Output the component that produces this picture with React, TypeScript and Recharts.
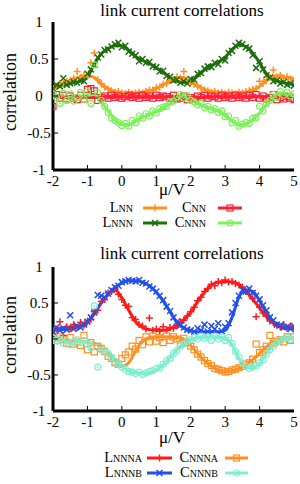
import React from 'react';
import { ComposedChart, Line, Scatter, XAxis, YAxis } from 'recharts';

// x grids: smooth curves every 0.2, measured points every 0.1
const curveX = [-2, -1.8, -1.6, -1.4, -1.2, -1, -0.8, -0.6, -0.4, -0.2, 0, 0.2, 0.4, 0.6, 0.8, 1, 1.2, 1.4,
  1.6, 1.8, 2, 2.2, 2.4, 2.6, 2.8, 3, 3.2, 3.4, 3.6, 3.8, 4, 4.2, 4.4, 4.6, 4.8, 5];
const pointX = [-2, -1.9, -1.8, -1.7, -1.6, -1.5, -1.4, -1.3, -1.2, -1.1,
  -1, -0.9, -0.8, -0.7, -0.6, -0.5, -0.4, -0.3, -0.2, -0.1,
  0, 0.1, 0.2, 0.3, 0.4, 0.5, 0.6, 0.7, 0.8, 0.9,
  1, 1.1, 1.2, 1.3, 1.4, 1.5, 1.6, 1.7, 1.8, 1.9,
  2, 2.1, 2.2, 2.3, 2.4, 2.5, 2.6, 2.7, 2.8, 2.9,
  3, 3.1, 3.2, 3.3, 3.4, 3.5, 3.6, 3.7, 3.8, 3.9,
  4, 4.1, 4.2, 4.3, 4.4, 4.5, 4.6, 4.7, 4.8, 4.9,
  5];
const xTicks = [-2, -1, 0, 1, 2, 3, 4, 5];
const yTicks = [-1, -0.5, 0, 0.5, 1];
const title = 'link current correlations';
const xLabel = 'μ/V';
const yLabel = 'correlation';

// upper panel
const lnnCurve = [0.12, 0.16, 0.19, 0.23, 0.26, 0.27, 0.25, 0.16, 0.1, 0.06, 0.045, 0.04, 0.04, 0.05, 0.07, 0.1, 0.15, 0.2,
  0.25, 0.25, 0.19, 0.14, 0.09, 0.06, 0.05, 0.04, 0.04, 0.045, 0.05, 0.08, 0.13, 0.21, 0.27, 0.27, 0.25, 0.24];
const cnnCurve = [0.01, 0, -0.01, -0.01, -0.015, -0.02, -0.02, -0.015, -0.01, -0.01, -0.01, -0.01, -0.01, -0.01, -0.01, -0.01, -0.01, -0.01,
  -0.015, -0.02, -0.02, -0.02, -0.015, -0.01, -0.01, -0.01, -0.01, -0.01, -0.01, -0.01, -0.01, -0.015, -0.02, -0.02, -0.02, -0.02];
const lnnnCurve = [0.12, 0.14, 0.16, 0.18, 0.2, 0.26, 0.43, 0.57, 0.64, 0.68, 0.68, 0.62, 0.53, 0.48, 0.44, 0.38, 0.32, 0.25,
  0.2, 0.18, 0.2, 0.27, 0.35, 0.41, 0.46, 0.52, 0.63, 0.69, 0.67, 0.58, 0.45, 0.3, 0.22, 0.19, 0.17, 0.16];
const cnnnCurve = [0.02, 0, -0.02, -0.03, -0.02, 0.01, 0.02, -0.08, -0.2, -0.32, -0.38, -0.39, -0.34, -0.29, -0.25, -0.21, -0.16, -0.1,
  -0.03, 0, -0.04, -0.1, -0.14, -0.17, -0.2, -0.26, -0.34, -0.39, -0.38, -0.32, -0.23, -0.12, -0.01, 0.04, 0.03, 0.02];

const lnnPts = [0.1, 0.13, 0.17, 0.17, 0.2, 0.21, 0.24, 0.33, 0.25, 0.28,
  0.26, 0.45, 0.58, 0.22, 0.17, 0.12, 0.09, 0.07, 0.05, 0.06,
  0.04, 0.03, 0.05, 0.03, 0.04, 0.05, 0.04, 0.06, 0.08, 0.08,
  0.11, 0.12, 0.16, 0.17, 0.21, 0.22, 0.26, 0.24, 0.33, 0.22,
  0.18, 0.16, 0.13, 0.11, 0.08, 0.07, 0.05, 0.06, 0.04, 0.05,
  0.03, 0.05, 0.04, 0.03, 0.05, 0.04, 0.06, 0.07, 0.09, 0.1,
  0.2, 0.17, 0.22, 0.25, 0.35, 0.26, 0.28, 0.24, 0.26, 0.23,
  0.21];
const cnnPts = [-0.14, 0.02, -0.03, 0.01, -0.04, 0, -0.03, -0.05, 0.01, -0.04,
  0.09, 0.1, 0.07, -0.06, -0.02, 0, -0.03, 0.01, -0.02, 0,
  -0.03, -0.01, 0.01, -0.02, 0, -0.03, 0.01, -0.02, 0, -0.03,
  0.01, -0.02, 0, -0.01, -0.03, 0.01, -0.04, -0.03, 0, -0.05,
  -0.02, -0.04, 0, -0.02, 0.01, -0.03, 0, -0.01, -0.03, 0.01,
  -0.02, 0, -0.03, 0.01, -0.02, 0, -0.03, 0.01, -0.02, 0.02,
  -0.03, 0, -0.04, -0.02, 0.02, -0.05, -0.02, -0.04, -0.01, -0.03,
  -0.05];
const lnnnPts = [0.1, 0.15, 0.13, 0.24, 0.15, 0.17, 0.19, 0.18, 0.21, 0.2,
  0.3, 0.36, 0.42, 0.52, 0.56, 0.62, 0.63, 0.67, 0.7, 0.72,
  0.66, 0.68, 0.6, 0.57, 0.55, 0.47, 0.5, 0.45, 0.46, 0.4,
  0.39, 0.33, 0.34, 0.27, 0.26, 0.21, 0.22, 0.18, 0.2, 0.17,
  0.23, 0.22, 0.3, 0.31, 0.37, 0.4, 0.39, 0.45, 0.43, 0.5,
  0.48, 0.58, 0.61, 0.68, 0.72, 0.7, 0.66, 0.64, 0.55, 0.38,
  0.47, 0.36, 0.28, 0.25, 0.2, 0.21, 0.17, 0.19, 0.15, 0.17,
  0.14];
const cnnnPts = [0.03, -0.02, -0.1, 0.04, -0.06, 0.03, -0.07, -0.02, 0.05, -0.04,
  0.06, -0.1, 0.42, 0.04, -0.06, -0.14, -0.22, -0.3, -0.33, -0.36,
  -0.4, -0.37, -0.41, -0.33, -0.36, -0.27, -0.3, -0.24, -0.27, -0.2,
  -0.23, -0.17, -0.15, -0.14, -0.08, -0.07, -0.01, 0.02, -0.03, 0.01,
  -0.06, -0.08, -0.12, -0.1, -0.16, -0.14, -0.19, -0.17, -0.22, -0.2,
  -0.28, -0.27, -0.36, -0.33, -0.41, -0.38, -0.36, -0.37, -0.3, -0.29,
  -0.14, -0.2, -0.1, -0.06, 0.02, -0.02, 0.06, 0.01, 0.05, 0,
  0.03];

// lower panel
const lnnnaCurve = [0.13, 0.15, 0.16, 0.17, 0.18, 0.23, 0.35, 0.5, 0.62, 0.68, 0.57, 0.4, 0.24, 0.16, 0.13, 0.12, 0.12, 0.14,
  0.19, 0.27, 0.37, 0.52, 0.65, 0.75, 0.79, 0.8, 0.79, 0.76, 0.67, 0.55, 0.43, 0.31, 0.22, 0.17, 0.15, 0.15];
const lnnnbCurve = [0.12, 0.13, 0.14, 0.15, 0.17, 0.23, 0.36, 0.5, 0.62, 0.71, 0.78, 0.81, 0.81, 0.79, 0.74, 0.65, 0.53, 0.38,
  0.23, 0.15, 0.11, 0.1, 0.1, 0.1, 0.1, 0.12, 0.3, 0.58, 0.68, 0.66, 0.53, 0.37, 0.24, 0.17, 0.15, 0.15];
const cnnnaCurve = [0, -0.01, -0.02, -0.03, -0.03, -0.04, -0.06, -0.11, -0.2, -0.3, -0.38, -0.33, -0.17, -0.03, 0.02, 0.03, 0.03, 0.03,
  0.02, 0, -0.09, -0.2, -0.3, -0.38, -0.43, -0.45, -0.44, -0.41, -0.36, -0.29, -0.2, -0.11, -0.04, 0, 0.02, 0.02];
const cnnnbCurve = [0, -0.01, -0.02, -0.03, -0.03, -0.04, -0.06, -0.11, -0.19, -0.29, -0.38, -0.44, -0.47, -0.48, -0.47, -0.43, -0.36, -0.26,
  -0.15, -0.06, -0.01, 0.02, 0.03, 0.03, 0.03, 0.01, -0.08, -0.27, -0.39, -0.4, -0.34, -0.2, -0.09, -0.02, 0.01, 0.02];

const lnnnaPts = [0.12, 0.14, 0.24, 0.05, 0.17, 0.15, 0.2, 0.16, 0.23, 0.19,
  0.25, 0.27, 0.38, 0.4, 0.52, 0.55, 0.64, 0.66, 0.7, 0.62,
  0.55, 0.47, 0.45, 0.3, 0.27, 0.2, 0.18, 0.14, 0.29, 0.12,
  0.14, 0.11, 0.17, 0.12, 0.16, 0.15, 0.18, 0.24, 0.26, 0.32,
  0.38, 0.44, 0.53, 0.58, 0.66, 0.7, 0.76, 0.74, 0.8, 0.78,
  0.82, 0.79, 0.8, 0.77, 0.75, 0.72, 0.66, 0.62, 0.56, 0.31,
  0.44, 0.36, 0.32, 0.25, 0.23, 0.19, 0.17, 0.2, 0.15, 0.18,
  0.14];
const lnnnbPts = [0.1, 0.16, 0.12, 0.15, 0.13, 0.33, 0.14, 0.18, 0.16, 0.2,
  0.24, 0.3, 0.37, 0.61, 0.6, 0.58, 0.63, 0.68, 0.72, 0.74,
  0.79, 0.8, 0.82, 0.81, 0.8, 0.82, 0.78, 0.77, 0.73, 0.7,
  0.66, 0.6, 0.54, 0.45, 0.39, 0.3, 0.24, 0.19, 0.16, 0.13,
  0.12, 0.1, 0.15, 0.12, 0.2, 0.1, 0.18, 0.14, 0.22, 0.11,
  0.17, 0.22, 0.37, 0.5, 0.6, 0.68, 0.66, 0.7, 0.64, 0.6,
  0.55, 0.47, 0.4, 0.3, 0.26, 0.2, 0.19, 0.16, 0.17, 0.14,
  0.18];
const cnnnaPts = [0.01, -0.02, 0.03, -0.01, -0.06, 0.02, -0.07, -0.04, -0.09, 0.05,
  -0.15, -0.05, -0.18, -0.1, -0.13, -0.17, -0.24, -0.27, -0.33, -0.35,
  -0.27, -0.22, -0.18, -0.1, -0.14, -0.02, -0.08, 0.03, -0.04, 0.04,
  -0.03, 0.02, -0.05, 0.04, -0.02, 0.03, 0, -0.07, 0.01, -0.05,
  -0.1, -0.15, -0.21, -0.25, -0.3, -0.34, -0.37, -0.41, -0.42, -0.44,
  -0.46, -0.45, -0.43, -0.42, -0.4, -0.38, -0.35, -0.33, -0.28, -0.07,
  -0.19, -0.15, -0.1, 0.05, -0.06, -0.03, -0.01, -0.04, 0.03, -0.02,
  0.03];
const cnnnbPts = [0.02, -0.03, 0, -0.06, -0.02, -0.08, -0.04, -0.01, -0.05, -0.02,
  -0.07, -0.12, 0.46, -0.39, -0.15, -0.16, -0.2, -0.26, -0.31, -0.34,
  -0.39, -0.42, -0.45, -0.46, -0.48, -0.46, -0.49, -0.47, -0.45, -0.44,
  -0.41, -0.4, -0.35, -0.3, -0.27, -0.2, -0.16, -0.1, -0.07, -0.03,
  -0.01, 0.02, 0, 0.04, 0.01, 0.03, -0.02, 0.04, 0, 0.03,
  -0.02, 0.02, -0.06, -0.17, -0.25, -0.33, -0.38, -0.41, -0.39, -0.37,
  -0.33, -0.29, -0.21, -0.15, -0.1, -0.05, -0.02, 0, 0.02, -0.01,
  0.03];

const SERIF = '"Liberation Serif", "Times New Roman", serif';

type Marker = 'plus' | 'cross' | 'square' | 'circle';

interface Series {
  key: string;
  main: string;
  sub: string;
  color: string;
  marker: Marker;
  curve: number[];
  pts: number[];
}

const Mark = ({ cx, cy, color, marker }: { cx: number; cy: number; color: string; marker: Marker }) => {
  if (cx == null || cy == null) return null;
  switch (marker) {
    case 'plus':
      return <path d={`M${cx - 3.5},${cy}H${cx + 3.5}M${cx},${cy - 3.5}V${cy + 3.5}`} stroke={color} strokeWidth={1.5} />;
    case 'cross':
      return <path d={`M${cx - 3},${cy - 3}L${cx + 3},${cy + 3}M${cx - 3},${cy + 3}L${cx + 3},${cy - 3}`} stroke={color} strokeWidth={1.5} />;
    case 'square':
      return <rect x={cx - 3} y={cy - 3} width={6} height={6} fill="none" stroke={color} strokeWidth={1.2} />;
    default:
      return (
        <g>
          <circle cx={cx} cy={cy} r={3} fill="none" stroke={color} strokeWidth={1.2} />
          <circle cx={cx} cy={cy} r={0.9} fill={color} />
        </g>
      );
  }
};

const BottomTick = (props: any) => {
  const { x, y, payload } = props;
  const v = payload.value;
  return (
    <g>
      {v > -2 && v < 5 && <line x1={x} x2={x} y1={y} y2={y - 5} stroke="#000" />}
      <text x={x} y={y + 16} textAnchor="middle" fontSize={15} fontFamily={SERIF} fill="#000">{String(v)}</text>
    </g>
  );
};

const TopTick = (props: any) => {
  const { x, y, payload } = props;
  const v = payload.value;
  if (v <= -2 || v >= 5) return <g />;
  return <line x1={x} x2={x} y1={y} y2={y + 5} stroke="#000" />;
};

const LeftTick = (props: any) => {
  const { x, y, payload } = props;
  const v = payload.value;
  return (
    <g>
      {v > -1 && v < 1 && <line x1={x} x2={x + 5} y1={y} y2={y} stroke="#000" />}
      <text x={x - 14} y={y + 5} textAnchor="middle" fontSize={15} fontFamily={SERIF} fill="#000">{String(v)}</text>
    </g>
  );
};

const RightTick = (props: any) => {
  const { x, y, payload } = props;
  const v = payload.value;
  if (v <= -1 || v >= 1) return <g />;
  return <line x1={x} x2={x - 5} y1={y} y2={y} stroke="#000" />;
};

interface PanelLayout {
  top: number;
  height: number;
  xAxisHeight: number;
  titleY: number;
  xLabelY: number;
  yLabelY: number;
  rowY: number[];
  labelEnd: number[];
  sampleX: number[][];
}

const frame = { stroke: '#000', strokeWidth: 3 };

const Panel = ({ series, layout }: { series: Series[]; layout: PanelLayout }) => {
  const rows = curveX.map((x, i) => {
    const r: Record<string, number> = { x };
    series.forEach(s => { r[s.key] = s.curve[i]; });
    return r;
  });

  return (
    <div style={{ position: 'absolute', left: 0, top: layout.top, width: 300, height: layout.height }}>
      <ComposedChart width={300} height={layout.height} data={rows} margin={{ top: 22, right: 6, bottom: 0, left: 0 }}>
        <XAxis dataKey="x" type="number" domain={[-2, 5]} ticks={xTicks} interval={0} allowDataOverflow
          height={layout.xAxisHeight} tickSize={0} tickMargin={0} tickLine={false} axisLine={frame} tick={BottomTick} />
        <XAxis xAxisId="top" orientation="top" dataKey="x" type="number" domain={[-2, 5]} ticks={xTicks} interval={0}
          allowDataOverflow height={0} tickSize={0} tickMargin={0} tickLine={false} axisLine={frame} tick={TopTick} />
        <YAxis type="number" domain={[-1, 1]} ticks={yTicks} interval={0} allowDataOverflow width={53}
          tickSize={0} tickMargin={0} tickLine={false} axisLine={frame} tick={LeftTick} />
        <YAxis yAxisId="right" orientation="right" type="number" domain={[-1, 1]} ticks={yTicks} interval={0}
          allowDataOverflow width={0} tickSize={0} tickMargin={0} tickLine={false} axisLine={frame} tick={RightTick} />
        {series.map(s => (
          <Scatter key={`p-${s.key}`} data={pointX.map((x, i) => ({ x, y: s.pts[i] }))} dataKey="y"
            isAnimationActive={false}
            shape={(p: any) => <Mark cx={p.cx} cy={p.cy} color={s.color} marker={s.marker} />} />
        ))}
        {series.map(s => (
          <Line key={`l-${s.key}`} dataKey={s.key} type="monotone" stroke={s.color} strokeWidth={3}
            dot={false} activeDot={false} isAnimationActive={false} />
        ))}
      </ComposedChart>
      <svg width={300} height={layout.height} style={{ position: 'absolute', left: 0, top: 0, pointerEvents: 'none' }}>
        <text x={182} y={layout.titleY} textAnchor="middle" fontSize={17} fontFamily={SERIF}>{title}</text>
        <text x={172} y={layout.xLabelY} textAnchor="middle" fontSize={17} fontFamily={SERIF}>{xLabel}</text>
        <text transform={`translate(16,${layout.yLabelY}) rotate(-90)`} textAnchor="middle" fontSize={18}
          fontFamily={SERIF}>{yLabel}</text>
        {series.map((s, i) => {
          const col = i % 2;
          const row = Math.floor(i / 2);
          const y = layout.rowY[row];
          const [x1, x2] = layout.sampleX[col];
          return (
            <g key={`lg-${s.key}`}>
              <text x={layout.labelEnd[col]} y={y + 4} textAnchor="end" fontFamily={SERIF}>
                <tspan fontSize={14.5}>{s.main}</tspan>
                <tspan fontSize={10}>{s.sub}</tspan>
              </text>
              <line x1={x1} x2={x2} y1={y} y2={y} stroke={s.color} strokeWidth={3} />
              <Mark cx={(x1 + x2) / 2} cy={y} color={s.color} marker={s.marker} />
            </g>
          );
        })}
      </svg>
    </div>
  );
};

const upperSeries: Series[] = [
  { key: 'lnn', main: 'L', sub: 'NN', color: '#ff9020', marker: 'plus', curve: lnnCurve, pts: lnnPts },
  { key: 'cnn', main: 'C', sub: 'NN', color: '#ff1f35', marker: 'square', curve: cnnCurve, pts: cnnPts },
  { key: 'lnnn', main: 'L', sub: 'NNN', color: '#1e6e0e', marker: 'cross', curve: lnnnCurve, pts: lnnnPts },
  { key: 'cnnn', main: 'C', sub: 'NNN', color: '#7ef05c', marker: 'circle', curve: cnnnCurve, pts: cnnnPts },
];

const lowerSeries: Series[] = [
  { key: 'lnnna', main: 'L', sub: 'NNNA', color: '#ff1a1a', marker: 'plus', curve: lnnnaCurve, pts: lnnnaPts },
  { key: 'cnnna', main: 'C', sub: 'NNNA', color: '#ff9020', marker: 'square', curve: cnnnaCurve, pts: cnnnaPts },
  { key: 'lnnnb', main: 'L', sub: 'NNNB', color: '#2050f0', marker: 'cross', curve: lnnnbCurve, pts: lnnnbPts },
  { key: 'cnnnb', main: 'C', sub: 'NNNB', color: '#7feed0', marker: 'circle', curve: cnnnbCurve, pts: cnnnbPts },
];

const upperLayout: PanelLayout = {
  top: 0, height: 242, xAxisHeight: 72, titleY: 16, xLabelY: 195, yLabelY: 92,
  rowY: [208, 223], labelEnd: [133, 206], sampleX: [[143, 167], [218, 242]],
};

const lowerLayout: PanelLayout = {
  top: 245, height: 239, xAxisHeight: 73, titleY: 14, xLabelY: 198, yLabelY: 90,
  rowY: [213, 228], labelEnd: [142, 218], sampleX: [[147, 172], [225, 248]],
};

export default function App() {
  return (
    <div style={{ position: 'absolute', left: 0, top: 0, width: 300, height: 484, background: '#fff' }}>
      <Panel series={upperSeries} layout={upperLayout} />
      <Panel series={lowerSeries} layout={lowerLayout} />
    </div>
  );
}
